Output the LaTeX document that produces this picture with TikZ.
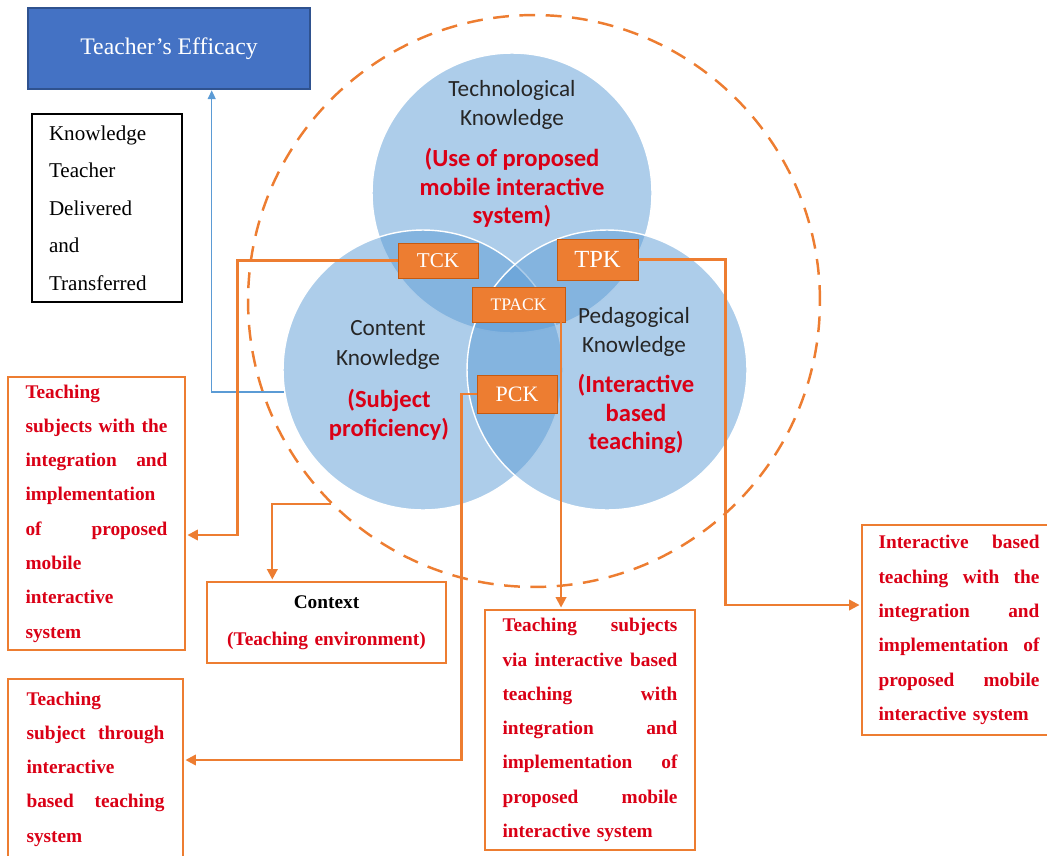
\documentclass[tikz,border=0pt]{standalone}
\usepackage{fontspec}
\setmainfont{Liberation Serif}
\newfontfamily\calibri{Carlito}
\usetikzlibrary{arrows.meta}
\usetikzlibrary{calc,positioning}

\definecolor{vennblue}{RGB}{91,155,213}
\definecolor{effblue}{RGB}{68,114,196}
\definecolor{effedge}{RGB}{47,82,143}
\definecolor{tpackorange}{RGB}{237,125,49}
\definecolor{tpackedge}{RGB}{197,90,17}
\definecolor{notered}{RGB}{218,0,22}

\begin{document}
\begin{tikzpicture}[x=0.02cm, y=-0.02cm, >={Triangle[length=6pt, width=6pt]},
    venn/.style = {circle, minimum size=5.6cm, fill=vennblue, fill opacity=0.5, draw=white, line width=0.8pt},
    vennname/.style = {font=\calibri\fontsize{13.2}{17}\selectfont, text=black!85, align=center},
    venndesc/.style = {font=\calibri\bfseries\fontsize{14}{16.2}\selectfont, text=notered, align=center},
    tag/.style = {fill=tpackorange, draw=tpackedge, line width=0.5pt, text=white, inner sep=0pt},
    note/.style = {draw=tpackorange, line width=0.8pt, fill=white, text=notered, align=left, inner sep=0pt,
                   font=\fontsize{11}{19.5}\selectfont\bfseries},
    link/.style = {draw=tpackorange, line width=1.3pt, ->, shorten >=1pt}]

    \useasboundingbox (0,0) rectangle (1047,855);
    \clip (0,0) rectangle (1047,855);

    % dashed context ring
    \node[circle, draw=tpackorange, line width=1.4pt, dash pattern=on 9pt off 6pt, minimum size=11.44cm] (outer) at (534,301) {};

    % the three knowledge circles
    \node[venn] (tk) at (512,193) {};
    \node[venn] (ck) at (423,370) {};
    \node[venn] (pk) at (607,370) {};

    \node[vennname] (tkname) at (512,105) {Technological\\Knowledge};
    \node[venndesc] (tkdesc) at (512,188) {(Use of proposed\\mobile interactive\\system)};
    \node[vennname] (ckname) at (388,345) {Content\\Knowledge};
    \node[venndesc] (ckdesc) at (389,415) {(Subject\\proficiency)};
    \node[vennname] (pkname) at (634,332) {Pedagogical\\Knowledge};
    \node[venndesc] (pkdesc) at (636,414) {(Interactive\\based\\teaching)};

    % overlap tags
    \node[tag, minimum width=1.6cm, minimum height=0.7cm, font=\fontsize{12}{12}\selectfont] (tck) at (438,260.5) {TCK};
    \node[tag, minimum width=1.62cm, minimum height=0.82cm, font=\fontsize{14}{14}\selectfont] (tpk) at (597.5,259.5) {TPK};
    \node[tag, minimum width=1.86cm, minimum height=0.7cm, font=\fontsize{10}{10}\selectfont] (tpack) at (518.5,304.5) {TPACK};
    \node[tag, minimum width=1.6cm, minimum height=0.76cm, font=\fontsize{12.5}{12.5}\selectfont] (pck) at (517,394) {PCK};

    % efficacy and knowledge boxes
    \node[fill=effblue, draw=effedge, line width=1.5pt, minimum width=5.64cm, minimum height=1.62cm,
          text=white, font=\fontsize{13.5}{16}\selectfont] (eff) at (169,48.5) {Teacher's Efficacy};
    \node[draw=black, line width=0.8pt, minimum width=3cm, minimum height=3.76cm, text width=2.32cm,
          align=left, inner sep=0pt, font=\fontsize{12}{21.3}\selectfont] (kbox) at (107,208)
          {Knowledge\\Teacher\\Delivered\\and\\Transferred};

    % outcome notes
    \node[note, minimum width=3.54cm, minimum height=5.46cm, text width=2.84cm] (boxtck) at (96.5,513.5)
          {Teaching\\subjects\hfill with\hfill the\\integration\hfill and\\implementation\\of\hfill proposed\\mobile\\interactive\\system};
    \node[note, minimum width=4.78cm, minimum height=1.62cm, text width=4.5cm, align=center,
          font=\fontsize{11}{21}\selectfont\bfseries] (boxctx) at (326.5,622.5)
          {\textcolor{black}{Context}\\(Teaching environment)};
    \node[note, minimum width=4.2cm, minimum height=4.8cm, text width=3.5cm] (boxtpack) at (590,730)
          {Teaching\hfill subjects\\via\hfill interactive\hfill based\\teaching\hfill with\\integration\hfill and\\implementation\hfill of\\proposed\hfill mobile\\interactive system};
    \node[note, minimum width=3.88cm, minimum height=4.2cm, text width=3.22cm] (boxtpk) at (959,630)
          {Interactive\hfill based\\teaching\hfill with\hfill the\\integration\hfill and\\implementation\hfill of\\proposed\hfill mobile\\interactive system};
    \node[note, minimum width=3.5cm, minimum height=3.6cm, text width=2.76cm] (boxpck) at (95.5,769)
          {Teaching\\subject\hfill through\\interactive\\based\hfill teaching\\system};

    % connectors
    \draw[draw=vennblue, line width=0.8pt, -{Triangle[length=5pt, width=4.5pt]}] (ck.189) -| ($(eff.south west)+(185,0)$);
    \draw[link] (tck.west) -- ++(-160,0) |- ($(boxtck.east)+(0,21.5)$);
    \draw[link] (outer.225) -| ($(boxctx.north west)+(66,0)$);
    \draw[link] ([xshift=-2.5pt]tpack.south east) -- ([xshift=-2.5pt]tpack.south east |- boxtpack.north);
    \draw[link] (tpk.east) -- ++(87,0) |- ($(boxtpk.west)+(0,-25)$);
    \draw[link] (pck.west) -- ++(-15,0) |- ($(boxpck.east)+(0,-9)$);

\end{tikzpicture}
\end{document}
